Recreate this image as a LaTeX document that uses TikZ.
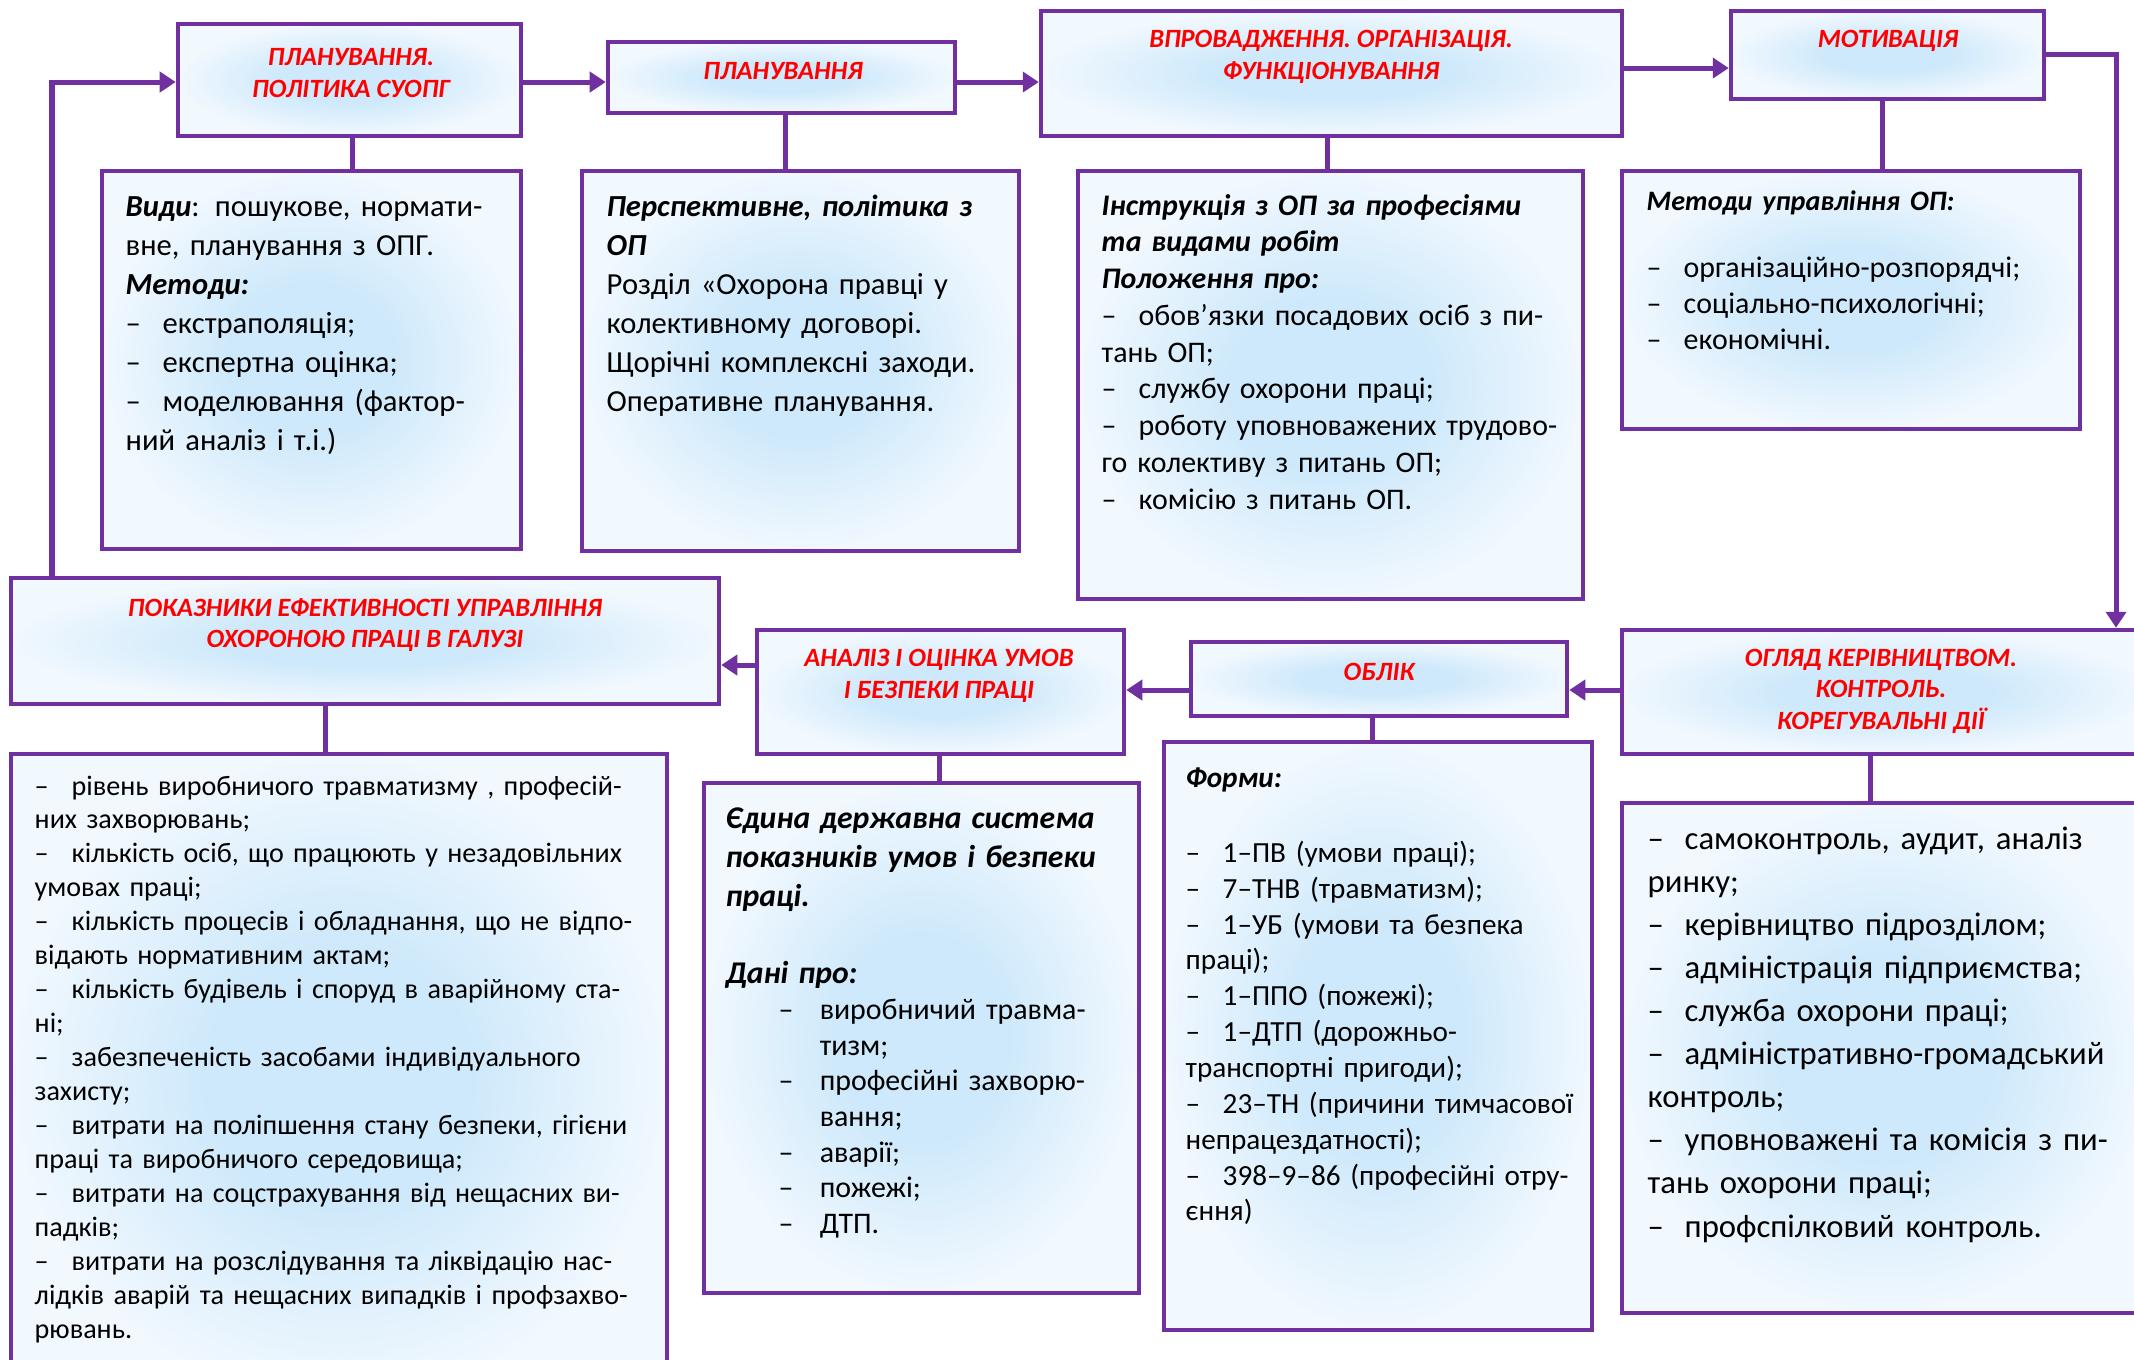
\documentclass[tikz,border=0pt]{standalone}
\usepackage{fontspec}
\setmainfont{Carlito}
\usetikzlibrary{arrows.meta,fit}
\definecolor{frame}{RGB}{112,48,160}
\definecolor{hdr}{RGB}{255,0,0}
\definecolor{glow}{RGB}{206,233,251}
\definecolor{pale}{RGB}{241,248,254}
\newcommand\dd{\makebox[0.37cm][l]{–}}
\newcommand\fs[2]{\fontsize{#1}{#2}\selectfont}
\newcommand\bi[1]{\textbf{\textit{#1}}}
\pgfdeclareradialshading{glowshade}{\pgfpoint{0bp}{0bp}}{color(0bp)=(glow); color(10bp)=(glow); color(25bp)=(pale); color(50bp)=(pale)}
\begin{document}
\begin{tikzpicture}[x=0.01cm,y=-0.01cm,
  box/.style={draw=frame, line width=0.045cm, shade, shading=glowshade, inner sep=0pt},
  hd/.style={text=hdr, align=center, font=\fs{7.5}{9}\bfseries\itshape, inner sep=0pt},
  txt/.style={align=left, text width=7cm, inner sep=0pt, anchor=base west},
  conn/.style={draw=frame, line width=0.05cm},
  arr/.style={conn, -{Triangle[length=0.16cm,width=0.2cm]}}]
\useasboundingbox (0,0) rectangle (2134,1359);
\clip (0,0) rectangle (2134,1359);
\fill[white] (0,0) rectangle (2134,1359);

% header boxes
\node[box, fit={(178,24) (521,136)}] (H1) {};
\node[box, fit={(608,42) (955,113)}] (H2) {};
\node[box, fit={(1041,11) (1622,136)}] (H3) {};
\node[box, fit={(1731,11) (2044,99)}] (H4) {};
\node[box, fit={(11,578) (719,704)}] (H5) {};
\node[box, fit={(757,630) (1124,754)}] (H6) {};
\node[box, fit={(1191,642) (1567,716)}] (H7) {};
\node[box, fit={(1622,630) (2150,754)}] (H8) {};

% content boxes
\node[box, fit={(102,171) (521,549)}] (B1) {};
\node[box, fit={(582,171) (1019,551)}] (B2) {};
\node[box, fit={(1078,171) (1583,599)}] (B3) {};
\node[box, fit={(1622,171) (2080,429)}] (B4) {};
\node[box, fit={(11,754) (667,1400)}] (B5) {};
\node[box, fit={(704,783) (1139,1293)}] (B6) {};
\node[box, fit={(1164,742) (1592,1330)}] (B7) {};
\node[box, fit={(1622,803) (2150,1313)}] (B8) {};

% header texts
\node[hd] (h1t) at (351,73) {ПЛАНУВАННЯ.\\ПОЛІТИКА СУОПГ};
\node[hd] (h2t) at (783,71) {ПЛАНУВАННЯ};
\node[hd] (h3t) at (1331,57) {ВПРОВАДЖЕННЯ. ОРГАНІЗАЦІЯ.\\ФУНКЦІОНУВАННЯ};
\node[hd] (h4t) at (1888,41) {МОТИВАЦІЯ};
\node[hd] (h5t) at (365,625) {ПОКАЗНИКИ ЕФЕКТИВНОСТІ УПРАВЛІННЯ\\ОХОРОНОЮ ПРАЦІ В ГАЛУЗІ};
\node[hd] (h6t) at (939,676) {АНАЛІЗ І ОЦІНКА УМОВ\\І БЕЗПЕКИ ПРАЦІ};
\node[hd] (h7t) at (1379,672) {ОБЛІК};
\node[hd] (h8t) at (1881,691) {ОГЛЯД КЕРІВНИЦТВОМ.\\КОНТРОЛЬ.\\КОРЕГУВАЛЬНІ ДІЇ};

% content texts
\node[txt, font=\fs{8.7}{11.1}] (t1) at (125,216) {\bi{Види}: пошукове, нормати-\\вне, планування з ОПГ.\\\bi{Методи:}\\\dd екстраполяція;\\\dd експертна оцінка;\\\dd моделювання (фактор-\\ний аналіз і т.і.)};
\node[txt, font=\fs{8.7}{11.1}] (t2) at (606,216) {\bi{Перспективне, політика з}\\\bi{ОП}\\Розділ «Охорона правці у\\колективному договорі.\\Щорічні комплексні заходи.\\Оперативне планування.};
\node[txt, font=\fs{8.5}{10.45}] (t3) at (1101,215) {\bi{Інструкція з ОП за професіями}\\\bi{та видами робіт}\\\bi{Положення про:}\\\dd обов’язки посадових осіб з пи-\\тань ОП;\\\dd службу охорони праці;\\\dd роботу уповноважених трудово-\\го колективу з питань ОП;\\\dd комісію з питань ОП.};
\node[txt, font=\fs{8.5}{10.25}] (t4) at (1646,210) {\bi{\fs{8}{10.25}Методи управління ОП:}\\[9pt]\dd організаційно-розпорядчі;\\\dd соціально-психологічні;\\\dd економічні.};
\node[txt, font=\fs{8}{9.65}] (t5) at (34,795) {\dd рівень виробничого травматизму , професій-\\них захворювань;\\\dd кількість осіб, що працюють у незадовільних\\умовах праці;\\\dd кількість процесів і обладнання, що не відпо-\\відають нормативним актам;\\\dd кількість будівель і споруд в аварійному ста-\\ні;\\\dd забезпеченість засобами індивідуального\\захисту;\\\dd витрати на поліпшення стану безпеки, гігієни\\праці та виробничого середовища;\\\dd витрати на соцстрахування від нещасних ви-\\падків;\\\dd витрати на розслідування та ліквідацію нас-\\лідків аварій та нещасних випадків і профзахво-\\рювань.};
\node[txt, font=\fs{8.5}{10.15}] (t6) at (725,828) {\fs{9}{11.1}\bi{Єдина державна система}\\\bi{показників умов і безпеки}\\\bi{праці.}\\[11pt]\bi{Дані про:}\\\fs{8.5}{10.15}%
\hspace*{0.53cm}\makebox[0.41cm][l]{–}виробничий травма-\\\hspace*{0.94cm}тизм;\\\hspace*{0.53cm}\makebox[0.41cm][l]{–}професійні захворю-\\\hspace*{0.94cm}вання;\\\hspace*{0.53cm}\makebox[0.41cm][l]{–}аварії;\\\hspace*{0.53cm}\makebox[0.41cm][l]{–}пожежі;\\\hspace*{0.53cm}\makebox[0.41cm][l]{–}ДТП.};
\node[txt, font=\fs{8.3}{10.2}] (t7) at (1185,787) {\bi{Форми:}\\[11.2pt]\dd 1–ПВ (умови праці);\\\dd 7–ТНВ (травматизм);\\\dd 1–УБ (умови та безпека\\праці);\\\dd 1–ППО (пожежі);\\\dd 1–ДТП (дорожньо-\\транспортні пригоди);\\\dd 23–ТН (причини тимчасової\\непрацездатності);\\\dd 398–9–86 (професійні отру-\\єння)};
\node[txt, font=\fs{9.3}{12.26}] (t8) at (1647,849) {\dd самоконтроль, аудит, аналіз\\ринку;\\\dd керівництво підрозділом;\\\dd адміністрація підприємства;\\\dd служба охорони праці;\\\dd адміністративно-громадський\\контроль;\\\dd уповноважені та комісія з пи-\\тань охорони праці;\\\dd профспілковий контроль.};

% connectors header -> content
\draw[conn] (H1.south -| 352,0) -- (B1.north -| 352,0);
\draw[conn] (H2.south -| 785,0) -- (B2.north -| 785,0);
\draw[conn] (H3.south -| 1327,0) -- (B3.north -| 1327,0);
\draw[conn] (H4.south -| 1882,0) -- (B4.north -| 1882,0);
\draw[conn] (H5.south -| 325,0) -- (B5.north -| 325,0);
\draw[conn] (H6.south -| 939,0) -- (B6.north -| 939,0);
\draw[conn] (H7.south -| 1372,0) -- (B7.north -| 1372,0);
\draw[conn] (H8.south -| 1870,0) -- (B8.north -| 1870,0);

% flow arrows
\draw[arr] (H5.north -| 52,0) |- (H1.west |- 0,82);
\draw[arr] (H1.east |- 0,82) -- (H2.west |- 0,82);
\draw[arr] (H2.east |- 0,82) -- (H3.west |- 0,82);
\draw[arr] (H3.east |- 0,68) -- (H4.west |- 0,68);
\draw[arr] (H4.east |- 0,54) -| (H8.north -| 2116,0);
\draw[arr] (H8.west |- 0,690) -- (H7.east |- 0,690);
\draw[arr] (H7.west |- 0,690) -- (H6.east |- 0,690);
\draw[arr] (H6.west |- 0,665) -- (H5.east |- 0,665);
\end{tikzpicture}
\end{document}
